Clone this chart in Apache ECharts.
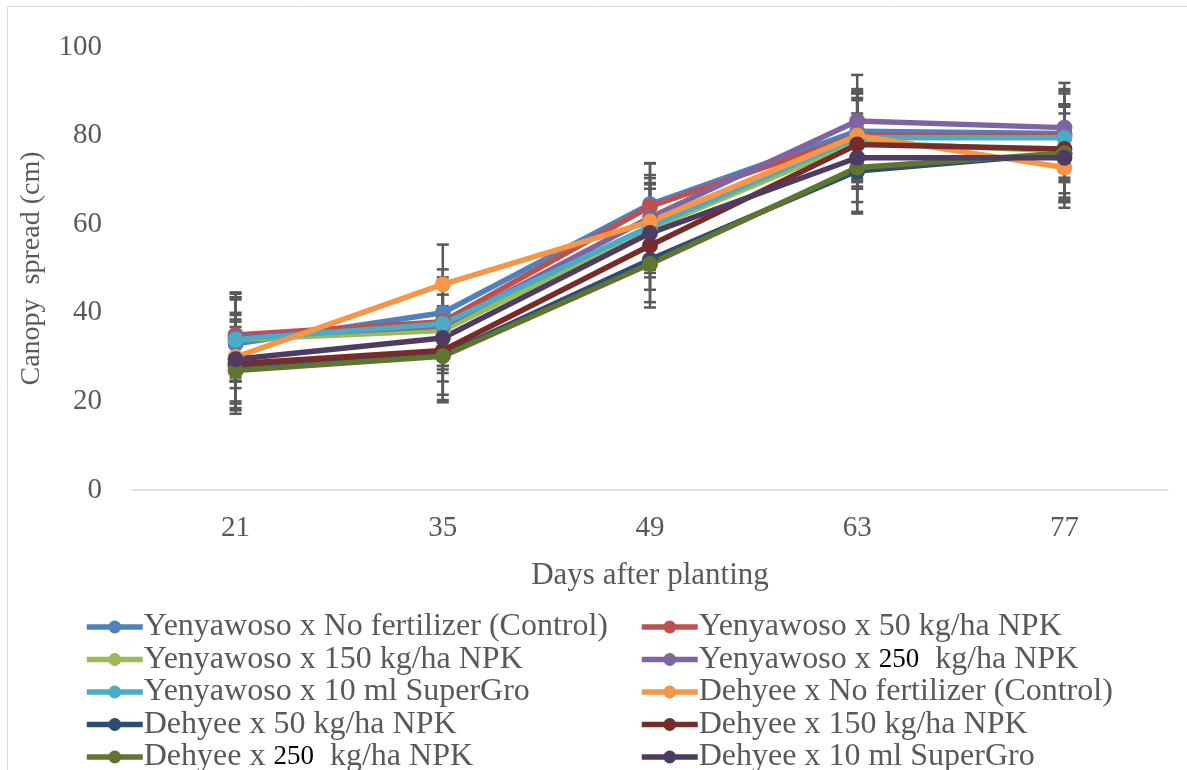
<!DOCTYPE html>
<html>
<head>
<meta charset="utf-8">
<script src="https://cdn.jsdelivr.net/npm/echarts@6/dist/echarts.min.js"></script>
<style>
html,body{margin:0;padding:0;background:#fff;}
#c{width:1187px;height:770px;}
</style>
</head>
<body>
<div id="c"></div>
<script>
const categories = ['21', '35', '49', '63', '77'];
const seriesNames = [
  'Yenyawoso x No fertilizer (Control)',
  'Yenyawoso x 50 kg/ha NPK',
  'Yenyawoso x 150 kg/ha NPK',
  'Yenyawoso x 250  kg/ha NPK',
  'Yenyawoso x 10 ml SuperGro',
  'Dehyee x No fertilizer (Control)',
  'Dehyee x 50 kg/ha NPK',
  'Dehyee x 150 kg/ha NPK',
  'Dehyee x 250  kg/ha NPK',
  'Dehyee x 10 ml SuperGro'
];
const yControl   = [33.0, 40.0, 64.5, 81.0, 80.5];
const y50        = [35.0, 38.0, 64.0, 80.0, 80.0];
const y150       = [34.0, 36.0, 59.0, 78.5, 76.5];
const y250       = [34.5, 37.0, 61.5, 83.3, 81.8];
const ySuperGro  = [34.0, 37.5, 59.5, 79.5, 79.5];
const dControl   = [30.0, 46.4, 60.6, 80.0, 72.8];
const d50        = [28.0, 30.5, 52.0, 72.0, 76.0];
const d150       = [28.5, 31.5, 55.2, 78.0, 77.0];
const d250       = [27.0, 30.2, 51.0, 72.8, 76.0];
const dSuperGro  = [29.5, 34.3, 58.0, 75.0, 75.0];
const errYControl  = [10.0, 9.8, 9.2, 9.5, 10.0];
const errY50       = [9.6, 10.0, 9.8, 9.6, 10.0];
const errY150      = [9.5, 9.6, 10.0, 10.0, 10.5];
const errY250      = [9.8, 9.8, 9.6, 10.4, 10.1];
const errYSuperGro = [9.5, 9.5, 9.8, 10.0, 10.0];
const errDControl  = [10.0, 9.0, 9.8, 10.0, 9.1];
const errD50       = [10.0, 10.2, 9.6, 9.6, 10.5];
const errD150      = [10.0, 10.0, 10.0, 10.0, 10.0];
const errD250      = [9.8, 10.4, 9.8, 10.0, 11.0];
const errDSuperGro = [10.0, 9.8, 10.0, 10.0, 10.0];

const values = [yControl, y50, y150, y250, ySuperGro, dControl, d50, d150, d250, dSuperGro];
const errs = [errYControl, errY50, errY150, errY250, errYSuperGro, errDControl, errD50, errD150, errD250, errDSuperGro];
const colors = ['#4F81BD','#C0504D','#9BBB59','#8064A2','#4BACC6','#F79646','#2C4D75','#772C2A','#5F7530','#4D3B62'];

const chart = echarts.init(document.getElementById('c'));
const font = 'Liberation Serif, Times New Roman, serif';
const textColor = '#595959';

const series = [];
values.forEach((v, i) => {
  series.push({
    type: 'custom',
    name: 'err' + i,
    z: 1,
    silent: true,
    data: v.map((val, j) => [j, val - errs[i][j], val + errs[i][j]]),
    renderItem: function (params, api) {
      const x = api.value(0);
      const lo = api.coord([x, api.value(1)]);
      const hi = api.coord([x, api.value(2)]);
      const hw = 6;
      const st = { stroke: '#595959', lineWidth: 2.5 };
      return {
        type: 'group',
        children: [
          { type: 'line', shape: { x1: lo[0], y1: lo[1], x2: hi[0], y2: hi[1] }, style: st },
          { type: 'line', shape: { x1: lo[0]-hw, y1: lo[1], x2: lo[0]+hw, y2: lo[1] }, style: st },
          { type: 'line', shape: { x1: hi[0]-hw, y1: hi[1], x2: hi[0]+hw, y2: hi[1] }, style: st }
        ]
      };
    }
  });
});
values.forEach((v, i) => {
  series.push({
    type: 'line',
    name: seriesNames[i],
    data: v,
    z: 3,
    symbol: 'circle',
    symbolSize: 16,
    lineStyle: { width: 5.5, color: colors[i] },
    itemStyle: { color: colors[i] },
    animation: false
  });
});

const legendCommon = {
  orient: 'vertical',
  top: 611,
  height: 170,
  padding: 0,
  itemWidth: 56,
  itemHeight: 16,
  itemGap: 0.5,
  lineStyle: { width: 5.5 },
  textStyle: {
    fontFamily: font, fontSize: 32, color: textColor, lineHeight: 32, padding: [0, 0, 0, -4],
    rich: { b: { fontFamily: 'Liberation Serif, serif', fontSize: 27, color: '#000', lineHeight: 32 } }
  },
  formatter: function (name) { return name.replace('250', '{b|250}'); }
};

chart.setOption({
  animation: false,
  color: colors,
  graphic: [{
    type: 'rect', shape: { x: 7.5, y: 6.5, width: 1190, height: 780 },
    style: { fill: 'none', stroke: '#d9d9d9', lineWidth: 1 }, silent: true, z: -10
  }],
  grid: { left: 132, right: 19, top: 47, bottom: 280 },
  legend: [
    Object.assign({ left: 84, data: seriesNames.filter((_, i) => i % 2 === 0) }, legendCommon),
    Object.assign({ left: 639, data: seriesNames.filter((_, i) => i % 2 === 1) }, legendCommon)
  ],
  xAxis: {
    type: 'category',
    data: categories,
    boundaryGap: true,
    name: 'Days after planting',
    nameLocation: 'middle',
    nameGap: 70,
    nameTextStyle: { fontFamily: font, fontSize: 31, color: textColor },
    axisLine: { lineStyle: { color: '#d9d9d9', width: 1.5 } },
    axisTick: { show: false },
    axisLabel: { fontFamily: font, fontSize: 29, color: textColor, margin: 24 }
  },
  yAxis: {
    type: 'value',
    min: 0, max: 100, interval: 20,
    name: 'Canopy  spread (cm)',
    nameLocation: 'middle',
    nameGap: 86,
    nameTextStyle: { fontFamily: font, fontSize: 28, color: textColor },
    axisLine: { show: false },
    axisTick: { show: false },
    splitLine: { show: false },
    axisLabel: { fontFamily: font, fontSize: 29, color: textColor, margin: 30 }
  },
  series: series
});
</script>
</body>
</html>
